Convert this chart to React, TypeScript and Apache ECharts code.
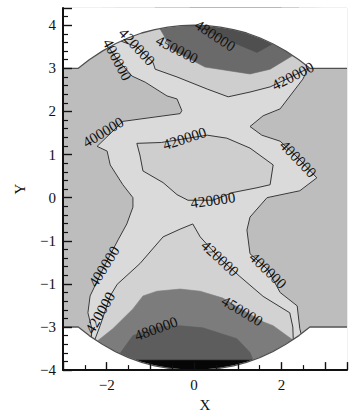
import React, { useEffect, useRef } from 'react';
import * as echarts from 'echarts';

type P = [number, number];

// ---- axes ----
const X_MIN = -3, X_MAX = 3.5, Y_MIN = -4, Y_MAX = 4.4;
const X_TICK_VALUES = [-2, 0, 2];
const X_TICK_LABELS = ['−2', '0', '2'];
const Y_TICK_VALUES = [-4, -3, -2, -1, 0, 1, 2, 3, 4];
const Y_TICK_LABELS = ['−4', '−3', '−1', '−1', '0', '1', '2', '3', '4'];

// ---- domain: rectangle |y|<=3 plus circular caps ----
const ARC_X = [-2.65, -2.4, -2.1, -1.8, -1.5, -1.2, -0.9, -0.6, -0.3, 0, 0.3, 0.6, 0.9, 1.2, 1.5, 1.8, 2.1, 2.4, 2.65];
const ARC_H = [3.0, 3.2, 3.4, 3.57, 3.71, 3.82, 3.9, 3.955, 3.99, 4.0, 3.99, 3.955, 3.9, 3.82, 3.71, 3.57, 3.4, 3.2, 3.0];
const RECT_H = 3;

// ---- contour lines ----
const LINE_400_LEFT: P[] = [[-1.95, 3.48], [-1.76, 3.21], [-1.42, 2.82], [-1.12, 2.68], [-0.62, 2.36], [-0.39, 2.29], [-0.28, 2.02],
  [-0.32, 1.95], [-1.63, 1.77], [-2.22, 1.19], [-1.99, 1.08], [-1.92, 0.76], [-1.63, 0.3], [-1.4, 0.0], [-1.4, -0.22],
  [-1.54, -0.61], [-1.74, -0.98], [-2.06, -1.6], [-2.38, -2.28], [-2.43, -2.67], [-2.34, -3.04], [-2.35, -3.24]];
const LINE_400_RIGHT: P[] = [[2.62, 3.02], [2.49, 2.75], [1.97, 2.06], [1.58, 1.9], [1.28, 1.65], [1.55, 1.45], [1.97, 1.31],
  [2.38, 0.92], [2.81, 0.46], [2.42, 0.16], [1.67, 0.0], [1.28, -0.45], [1.21, -0.75], [1.28, -1.3], [1.69, -1.67],
  [1.97, -2.2], [2.36, -2.51], [2.42, -3.04], [2.45, -3.16]];
const LINE_420_TOP: P[] = [[-1.67, 3.63], [-1.31, 3.5], [-0.94, 3.14], [-0.89, 2.98], [-0.39, 2.8], [0.3, 2.52], [0.78, 2.34],
  [1.28, 2.45], [1.74, 2.57], [2.26, 2.82], [2.61, 3.0]];
const LINE_420_CENTER: P[] = [[-1.31, 1.26], [-0.75, 1.28], [0.3, 1.45], [0.75, 1.38], [1.28, 1.15], [1.81, 0.76], [1.74, 0.3],
  [1.44, 0.23], [0.89, 0.12], [0.43, -0.06], [-0.14, -0.06], [-0.39, 0.07], [-0.71, 0.35], [-1.17, 0.62], [-1.24, 0.99], [-1.31, 1.26]];
const LINE_420_BOTTOM: P[] = [[-2.27, -3.29], [-2.15, -2.97], [-1.92, -2.28], [-1.76, -2.01], [-1.24, -1.53], [-0.71, -0.91],
  [-0.32, -0.73], [-0.03, -0.61], [0.14, -0.91], [0.59, -1.41], [1.05, -1.83], [1.58, -2.29], [2.19, -2.67], [2.26, -3.0], [2.27, -3.29]];

// ---- filled high-value zones (outer parts are hidden by the domain mask) ----
const ZONE_450_TOP: P[] = [[-0.78, 3.92], [-0.51, 3.44], [0.25, 3.03], [1.28, 2.87], [1.74, 2.98], [2.26, 3.3], [2.4, 4.4], [-0.9, 4.4]];
const ZONE_480_TOP: P[] = [[0.0, 4.0], [0.73, 3.67], [1.44, 3.37], [1.8, 3.57], [2.0, 4.4], [-0.1, 4.4]];
const ZONE_450_BOTTOM: P[] = [[-2.22, -3.33], [-1.86, -3.04], [-1.4, -2.58], [-1.17, -2.28], [-0.85, -2.17], [-0.32, -2.12],
  [0.14, -2.17], [0.66, -2.33], [1.1, -2.6], [1.58, -2.88], [1.81, -2.97], [2.26, -3.3], [2.4, -4], [-2.4, -4]];
const ZONE_480_BOTTOM: P[] = [[-1.7, -3.62], [-1.4, -3.2], [-0.85, -3.0], [-0.32, -2.97], [0.2, -3.02], [0.98, -3.27],
  [1.28, -3.59], [1.35, -3.77], [1.45, -4], [-1.8, -4]];
const ZONE_510_BOTTOM: P[] = [[-1.34, -3.77], [1.34, -3.77], [1.4, -4], [-1.4, -4]];

// ---- contour labels ----
const LABEL_TEXT = ['400000', '420000', '450000', '480000', '420000', '400000', '420000', '400000', '420000',
  '400000', '420000', '420000', '400000', '450000', '480000'];
const LABEL_X = [-1.76, -1.31, -0.39, 0.48, 2.26, -2.08, -0.22, 2.38, 0.43, -2.06, -2.15, 0.59, 1.69, 1.1, -0.87];
const LABEL_Y = [3.2, 3.5, 3.44, 3.76, 2.82, 1.52, 1.37, 0.9, -0.06, -1.6, -2.67, -1.41, -1.69, -2.63, -3.04];
const LABEL_ANGLE = [-62, -47, -27, -33, 27, 31, 18, -46, 8, 58, 60, -43, -44, -31, 20];

const SERIF = "'Liberation Serif', 'DejaVu Serif', serif";

function labelFor(values: number[], labels: string[], v: number): string {
  for (let i = 0; i < values.length; i++) if (Math.abs(values[i] - v) < 1e-6) return labels[i];
  return '';
}

export default function App() {
  const ref = useRef<HTMLDivElement>(null);
  useEffect(() => {
    if (!ref.current) return;
    const chart = echarts.init(ref.current, undefined, { renderer: 'svg' });

    const topArc: P[] = ARC_X.map((x, i) => [x, ARC_H[i]] as P);
    const botArc: P[] = ARC_X.map((x, i) => [x, -ARC_H[i]] as P);
    const outlineTop: P[] = [[X_MIN, RECT_H], ...topArc, [X_MAX, RECT_H]];
    const outlineBot: P[] = [[X_MIN, -RECT_H], ...botArc, [X_MAX, -RECT_H]];
    const maskTop: P[] = [...outlineTop, [X_MAX, Y_MAX], [X_MIN, Y_MAX]];
    const maskBot: P[] = [...outlineBot, [X_MAX, Y_MIN], [X_MIN, Y_MIN]];
    const full: P[] = [[X_MIN, Y_MIN], [X_MAX, Y_MIN], [X_MAX, Y_MAX], [X_MIN, Y_MAX]];
    const zone400: P[] = [[-2.1, Y_MAX], [2.9, Y_MAX], ...LINE_400_RIGHT, [2.6, Y_MIN], [-2.5, Y_MIN], ...LINE_400_LEFT.slice().reverse()];
    const zone420Top: P[] = [...LINE_420_TOP, [2.8, Y_MAX], [-1.8, Y_MAX]];
    const zone420Bot: P[] = [...LINE_420_BOTTOM, [2.4, Y_MIN], [-2.4, Y_MIN]];

    const bands: { pts: P[]; color: string }[] = [
      { pts: full, color: '#bdbdbd' },
      { pts: zone400, color: '#dadada' },
      { pts: LINE_420_CENTER, color: '#cecece' },
      { pts: zone420Top, color: '#cecece' },
      { pts: zone420Bot, color: '#d2d2d2' },
      { pts: ZONE_450_TOP, color: '#6a6a6a' },
      { pts: ZONE_480_TOP, color: '#4f4f4f' },
      { pts: ZONE_450_BOTTOM, color: '#7c7c7c' },
      { pts: ZONE_480_BOTTOM, color: '#5d5d5d' },
      { pts: ZONE_510_BOTTOM, color: '#060606' },
      { pts: maskTop, color: '#ffffff' },
      { pts: maskBot, color: '#ffffff' },
    ];

    const contourLines: P[][] = [LINE_400_LEFT, LINE_400_RIGHT, LINE_420_TOP, LINE_420_CENTER, LINE_420_BOTTOM];

    const lineSeries = contourLines.map((d) => ({
      type: 'line',
      data: d,
      showSymbol: false,
      symbol: 'none',
      silent: true,
      z: -8,
      lineStyle: { color: '#383838', width: 1 },
    }));
    const outlineSeries = [outlineTop, outlineBot].map((d) => ({
      type: 'line',
      data: d,
      showSymbol: false,
      symbol: 'none',
      silent: true,
      z: -7,
      lineStyle: { color: '#505050', width: 1.3 },
    }));

    const axisFont = { color: '#111', fontFamily: SERIF, fontSize: 15 };

    chart.setOption({
      animation: false,
      backgroundColor: '#ffffff',
      grid: { left: 63, right: 9, top: 8, bottom: 42 },
      xAxis: {
        type: 'value', min: X_MIN, max: X_MAX, interval: 1, z: 10,
        axisLine: { show: true, onZero: false, lineStyle: { color: '#111', width: 2 } },
        axisTick: { show: true, inside: true, length: 8, lineStyle: { color: '#111', width: 1.4 } },
        minorTick: { show: true, splitNumber: 2, length: 5, lineStyle: { color: '#111', width: 1.2 } },
        axisLabel: {
          ...axisFont, margin: 7, showMinLabel: true, showMaxLabel: true,
          formatter: (v: number) => labelFor(X_TICK_VALUES, X_TICK_LABELS, v),
        },
        splitLine: { show: false },
        minorSplitLine: { show: false },
        name: 'X', nameLocation: 'middle', nameGap: 20, nameTextStyle: { ...axisFont },
      },
      yAxis: {
        type: 'value', min: Y_MIN, max: Y_MAX, interval: 1, z: 10,
        axisLine: { show: true, onZero: false, lineStyle: { color: '#111', width: 2 } },
        axisTick: { show: true, inside: true, length: 9, lineStyle: { color: '#111', width: 1.4 } },
        minorTick: { show: true, splitNumber: 5, length: 5, lineStyle: { color: '#111', width: 1.2 } },
        axisLabel: {
          ...axisFont, margin: 7,
          formatter: (v: number) => labelFor(Y_TICK_VALUES, Y_TICK_LABELS, v),
        },
        splitLine: { show: false },
        minorSplitLine: { show: false },
        name: 'Y', nameLocation: 'middle', nameGap: 36, nameRotate: 90, nameTextStyle: { ...axisFont },
      },
      series: [
        {
          type: 'custom',
          silent: true,
          z: -10,
          data: bands.map((_, i) => [0, 0, i]),
          renderItem: (params: any, api: any) => {
            const b = bands[params.dataIndex];
            return {
              type: 'polygon',
              shape: { points: b.pts.map((p) => api.coord(p)) },
              style: { fill: b.color, stroke: b.color, lineWidth: 0.6 },
            };
          },
        },
        ...lineSeries,
        ...outlineSeries,
        {
          type: 'custom',
          silent: true,
          z: -6,
          data: LABEL_X.map((x, i) => [x, LABEL_Y[i]]),
          renderItem: (params: any, api: any) => {
            const i = params.dataIndex;
            const c = api.coord([LABEL_X[i], LABEL_Y[i]]);
            return {
              type: 'text',
              x: c[0], y: c[1],
              rotation: (LABEL_ANGLE[i] * Math.PI) / 180,
              style: {
                text: LABEL_TEXT[i],
                fill: '#111',
                fontFamily: SERIF,
                fontSize: 15,
                align: 'center',
                verticalAlign: 'middle',
              },
            };
          },
        },
      ],
    });
    return () => chart.dispose();
  }, []);
  return <div ref={ref} style={{ position: 'absolute', left: 0, top: 0, width: 356, height: 417 }} />;
}
